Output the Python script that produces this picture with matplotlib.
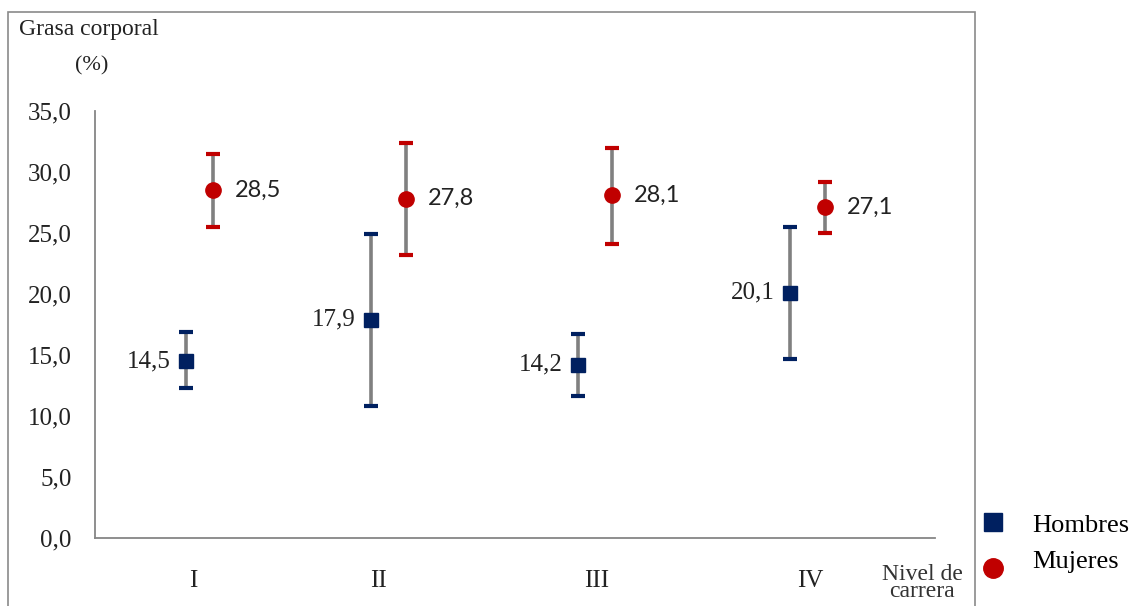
import matplotlib.pyplot as plt
from matplotlib.patches import Rectangle
from matplotlib.lines import Line2D

# Data
niveles = ['I', 'II', 'III', 'IV']
hombres = [14.5, 17.9, 14.2, 20.1]
hombres_sup = [16.9, 24.9, 16.7, 25.5]
hombres_inf = [12.3, 10.8, 11.6, 14.7]
mujeres = [28.5, 27.8, 28.1, 27.1]
mujeres_sup = [31.5, 32.4, 32.0, 29.2]
mujeres_inf = [25.5, 23.2, 24.1, 25.0]

# x positions (uneven in the original)
pos_nivel = [0.49, 1.415, 2.51, 3.575]
pos_h = [0.455, 1.38, 2.415, 3.475]
pos_m = [0.59, 1.555, 2.585, 3.65]

azul = '#002060'
rojo = '#C00000'
gris = '#808080'
serif = 'Liberation Serif'
sans = 'Lato'

fig = plt.figure(figsize=(11.32, 6.06), dpi=100)

# outer chart frame
fig.patches.append(Rectangle((8 / 1132, -0.01), (975 - 8) / 1132, (606 - 12) / 606 + 0.01,
                             transform=fig.transFigure, fill=False, edgecolor='#8a8a8a', lw=1.2))

ax = fig.add_axes([95 / 1132, 68 / 606, 840 / 1132, 427 / 606])
ax.set_xlim(0, 4.2)
ax.set_ylim(0, 35)
for s in ['top', 'right']:
    ax.spines[s].set_visible(False)
for s in ['left', 'bottom']:
    ax.spines[s].set_color('#868686')
    ax.spines[s].set_linewidth(1.3)

ax.set_yticks([0, 5, 10, 15, 20, 25, 30, 35])
ax.set_yticklabels([f'{v:.1f}'.replace('.', ',') for v in ax.get_yticks()],
                   fontfamily=serif, fontsize=18, color='#222222')
ax.set_xticks(pos_nivel)
ax.set_xticklabels(niveles, fontfamily=serif, fontsize=18, color='#222222')
ax.tick_params(axis='both', length=0)
ax.tick_params(axis='y', pad=17)
ax.tick_params(axis='x', pad=23)

def barras(xs, ys, lo, hi, color, marker, ms):
    for x, y, l, h in zip(xs, ys, lo, hi):
        ax.plot([x, x], [l, h], color=gris, lw=2.6, zorder=2)
        ax.plot([x - 0.035, x + 0.035], [h, h], color=color, lw=3, zorder=3, solid_capstyle='butt')
        ax.plot([x - 0.035, x + 0.035], [l, l], color=color, lw=3, zorder=3, solid_capstyle='butt')
    ax.plot(xs, ys, linestyle='none', marker=marker, ms=ms, color=color, zorder=4)

barras(pos_h, hombres, hombres_inf, hombres_sup, azul, 's', 10)
barras(pos_m, mujeres, mujeres_inf, mujeres_sup, rojo, 'o', 11)

for x, y in zip(pos_h, hombres):
    ax.text(x - 0.075, y, f'{y:.1f}'.replace('.', ','), ha='right', va='center',
            fontfamily=serif, fontsize=18, color='#222222')
for x, y in zip(pos_m, mujeres):
    ax.text(x + 0.11, y, f'{y:.1f}'.replace('.', ','), ha='left', va='center',
            fontfamily=sans, fontsize=17, color='#222222')

fig.text(89 / 1132, 1 - 30 / 606, 'Grasa corporal', ha='center', va='center',
         fontfamily=serif, fontsize=17, color='#222222')
fig.text(92 / 1132, 1 - 66 / 606, '(%)', ha='center', va='center',
         fontfamily=serif, fontsize=16, color='#222222')
fig.text(922 / 1132, 1 - 583 / 606, 'Nivel de\ncarrera', ha='center', va='center',
         fontfamily=serif, fontsize=17, color='#333333', linespacing=0.8)

# legend outside the frame
fig.lines.append(Line2D([993 / 1132], [1 - 522 / 606], transform=fig.transFigure,
                        marker='s', ms=13, color=azul, linestyle='none'))
fig.lines.append(Line2D([993 / 1132], [1 - 568 / 606], transform=fig.transFigure,
                        marker='o', ms=14, color=rojo, linestyle='none'))
fig.text(1032 / 1132, 1 - 526 / 606, 'Hombres', ha='left', va='center',
         fontfamily=serif, fontsize=19, color='black')
fig.text(1032 / 1132, 1 - 562 / 606, 'Mujeres', ha='left', va='center',
         fontfamily=serif, fontsize=19, color='black')

fig.savefig('out.png', dpi=100)
